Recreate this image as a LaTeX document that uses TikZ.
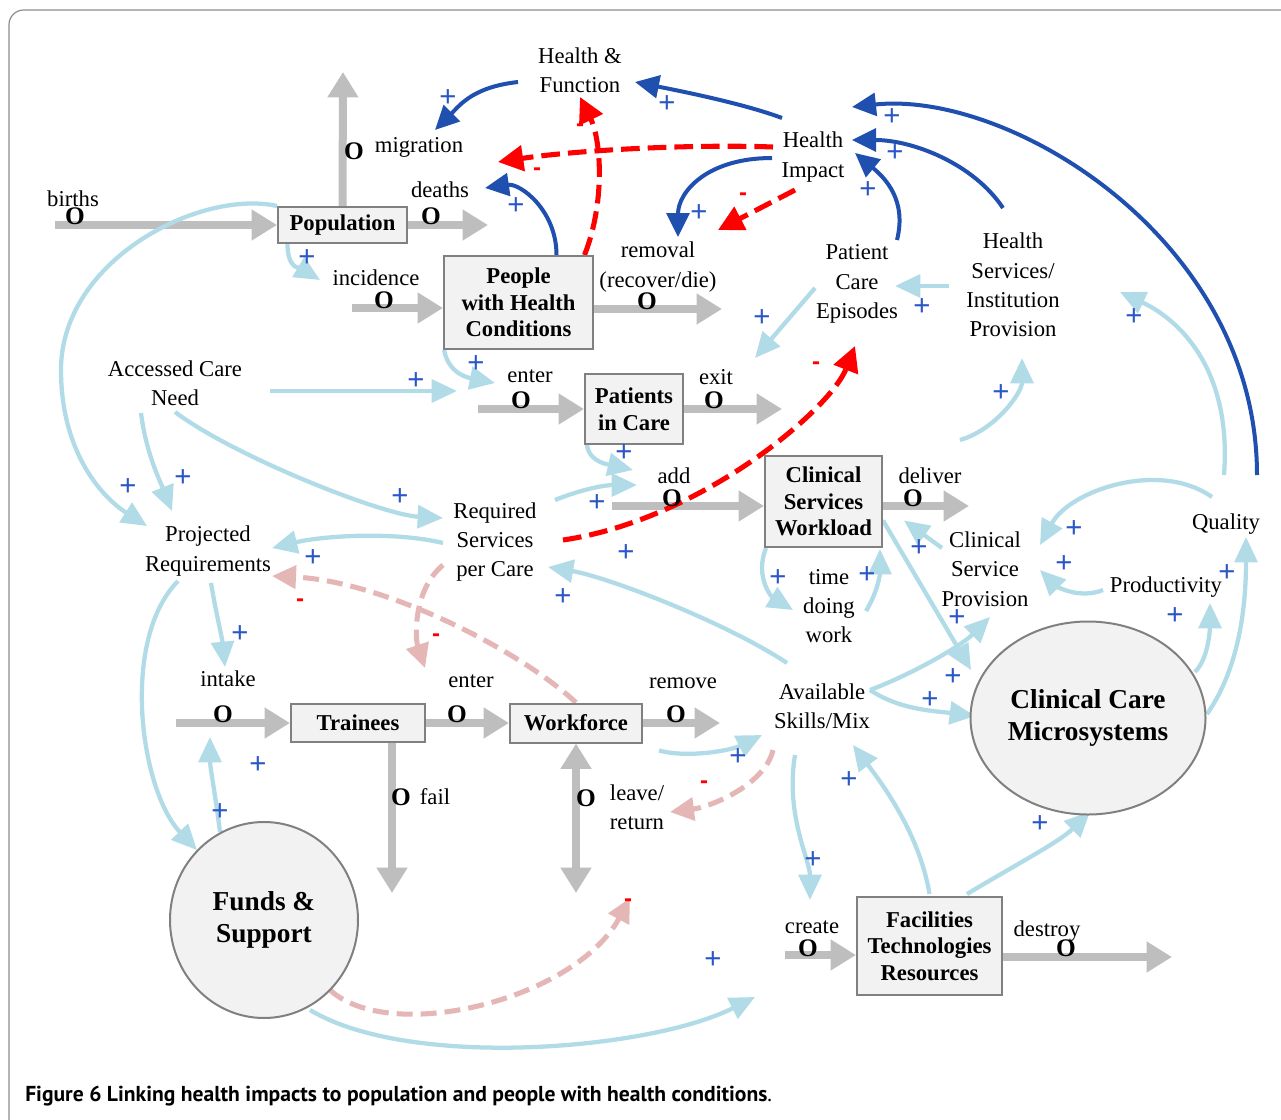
\documentclass[tikz,border=0pt]{standalone}
\usepackage{fontspec}
\setmainfont{Liberation Serif}
\newfontfamily\signfont{Liberation Sans}
\newfontfamily\capfont{PT Sans}
\usetikzlibrary{arrows.meta,shapes.geometric}

\definecolor{flowgray}{HTML}{BEBEBE}
\definecolor{boxfill}{HTML}{F2F2F2}
\definecolor{boxline}{HTML}{808080}
\definecolor{lblue}{HTML}{B0DBE7}
\definecolor{dblue}{HTML}{1F4FAF}
\definecolor{plusblue}{HTML}{2A56C6}
\definecolor{pinkd}{HTML}{E4B6B6}
\definecolor{framegray}{HTML}{8C8C8C}

\newcommand\pix{0.75pt}
\newcommand\auxfont{\fontsize{17}{22}\selectfont}
\newcommand\stockfont{\fontsize{17}{20}\selectfont\bfseries}
\newcommand\poolfont{\fontsize{20.5}{24}\selectfont\bfseries}

\pgfdeclarelayer{bg}
\pgfsetlayers{bg,main}

\begin{document}
\begin{tikzpicture}[x=0.75pt,y=-0.75pt,
  stock/.style={draw=boxline, fill=boxfill, line width=1.5pt, font=\stockfont, align=center, inner sep=0pt},
  pool/.style={ellipse, draw=boxline, fill=boxfill, line width=1.5pt, font=\poolfont, align=center, inner sep=0pt},
  aux/.style={font=\auxfont, align=center, inner sep=0pt},
  valve/.style={font=\fontsize{19}{19}\selectfont\bfseries, inner sep=0pt},
  plus/.style={text=plusblue, font=\signfont\fontsize{22}{22}\selectfont, inner sep=0pt},
  minus/.style={text=red, font=\signfont\bfseries\fontsize{18}{18}\selectfont, inner sep=0pt},
  flow/.style={draw=flowgray, line width=6pt, -{Triangle[length=19pt,width=22pt]}},
  flowboth/.style={draw=flowgray, line width=6pt, {Triangle[length=19pt,width=22pt]}-{Triangle[length=19pt,width=22pt]}},
  lb/.style={draw=lblue, line width=3.2pt, -{Triangle[length=19pt,width=17pt]}},
  db/.style={draw=dblue, line width=3pt, -{Triangle[length=18pt,width=17pt]}},
  rd/.style={draw=red, line width=3.8pt, dash pattern=on 14pt off 6pt, -{Triangle[length=19pt,width=19pt]}},
  pk/.style={draw=pinkd, line width=3.8pt, dash pattern=on 12pt off 6pt, -{Triangle[length=18pt,width=17pt]}}
]
\useasboundingbox (0,0) rectangle (1281,1120);

% ---------- stocks ----------
\node[stock, minimum width=129*\pix, minimum height=36*\pix] (pop) at (342.5,225) {Population};
\node[stock, minimum width=149*\pix, minimum height=93*\pix] (phc) at (518.5,302.5) {People\\with Health\\Conditions};
\node[stock, minimum width=98*\pix, minimum height=70*\pix] (pic) at (634,409) {Patients\\in Care};
\node[stock, minimum width=117*\pix, minimum height=91*\pix] (wl) at (823.5,501.5) {Clinical\\Services\\Workload};
\node[stock, minimum width=134*\pix, minimum height=38*\pix] (trn) at (358,723) {Trainees};
\node[stock, minimum width=132*\pix, minimum height=39*\pix] (wf) at (576,723) {Workforce};
\node[stock, minimum width=145*\pix, minimum height=98*\pix] (ftr) at (929.5,946) {Facilities\\Technologies\\Resources};

% ---------- pools ----------
\node[pool, minimum width=188*\pix, minimum height=196*\pix] (fund) at (264,920) {Funds \&\\Support};
\node[pool, minimum width=235*\pix, minimum height=193*\pix] (ccm) at (1088,718) {Clinical Care\\Microsystems};

% ---------- auxiliary variables ----------
\node[aux] (hf) at (580,70) {Health \&\\Function};
\node[aux] (hi) at (813,157) {Health\\Impact};
\node[aux] (pce) at (857,284) {Patient\\Care\\Episodes};
\node[aux] (hsip) at (1013,285) {Health\\Services/\\Institution\\Provision};
\node[aux] (acn) at (175,383) {Accessed Care\\Need};
\node[aux] (rsc) at (495,542) {Required\\Services\\per Care};
\node[aux] (pr) at (208,551) {Projected\\Requirements};
\node[aux] (tdw) at (829,606) {time\\doing\\work};
\node[aux] (csp) at (985,569) {Clinical\\Service\\Provision};
\node[aux] (qual) at (1226,524) {Quality};
\node[aux] (prod) at (1166,587) {Productivity};
\node[aux] (asm) at (822,706) {Available\\Skills/Mix};

% ---------- flow labels ----------
\node[aux] (lbirths) at (73,199) {births};
\node[aux] (ldeaths) at (440,190) {deaths};
\node[aux] (lmig) at (419,147) {migration};
\node[aux] (linc) at (376,278) {incidence};
\node[aux] (lrem) at (658,267) {removal\\(recover/die)};
\node[aux] (lent1) at (530,376) {enter};
\node[aux] (lexit) at (716,377) {exit};
\node[aux] (ladd) at (674,476) {add};
\node[aux] (ldel) at (930,476) {deliver};
\node[aux] (lint) at (228,679) {intake};
\node[aux] (lent2) at (471,681) {enter};
\node[aux] (lremv) at (683,683) {remove};
\node[aux] (lfail) at (435,797) {fail};
\node[aux] (lleave) at (637,807) {leave/\\return};
\node[aux] (lcreate) at (812,927) {create};
\node[aux] (ldest) at (1047,931) {destroy};

% ---------- flow ends ----------
\coordinate (birthsrc) at (55,225);
\coordinate (deathsink) at (488,225);
\coordinate (migsink) at (343,72);
\coordinate (incsrc) at (352,308);
\coordinate (remsink) at (722,309);
\coordinate (ent1src) at (478,409);
\coordinate (exitsink) at (782,409);
\coordinate (addsrc) at (612,506);
\coordinate (delsink) at (969,506);
\coordinate (intsrc) at (176,723);
\coordinate (remvsink) at (720,723);
\coordinate (failsink) at (392,893);
\coordinate (leavesrc) at (576,893);
\coordinate (createsrc) at (785,955);
\coordinate (destsink) at (1172,957);

\begin{pgfonlayer}{bg}
\fill[white] (0,0) rectangle (1281,1120);
\draw[framegray, line width=0.9pt, rounded corners=11pt] (9,10) rectangle (1300,1140);

% ---------- material flows ----------
\draw[flow] (birthsrc) -- (pop.west);
\draw[flow] (pop.east) -- (deathsink);
\draw[flow] (pop.north) -- (migsink);
\draw[flow] (incsrc) -- (incsrc -| phc.west);
\draw[flow] (phc.east |- remsink) -- (remsink);
\draw[flow] (ent1src) -- (pic.west);
\draw[flow] (pic.east) -- (exitsink);
\draw[flow] (addsrc) -- (addsrc -| wl.west);
\draw[flow] (wl.east |- delsink) -- (delsink);
\draw[flow] (intsrc) -- (trn.west);
\draw[flow] (trn.east) -- (wf.west);
\draw[flow] (wf.east) -- (remvsink);
\draw[flow] (failsink |- trn.south) -- (failsink);
\draw[flowboth] (wf.south) -- (leavesrc);
\draw[flow] (createsrc) -- (createsrc -| ftr.west);
\draw[flow] (ftr.east |- destsink) -- (destsink);

% ---------- light blue positive links ----------
\draw[lb] ([shift={(-55,0)}]pop.south) .. controls +(0,25) and +(-20,-12) .. ([shift={(-56,2)}]linc.center);
\draw[lb] (pop.north west) .. controls +(-77,-17) and +(0,-110) .. ([shift={(-147,-181)}]pr.center)
          .. controls +(0,80) and +(-47,-30) .. ([shift={(-61,-25)}]pr.center);
\draw[lb] ([shift={(-34,30)}]acn.center) .. controls +(5,40) and +(-12,-30) .. ([shift={(-36,-40)}]pr.center);
\draw[lb] ([shift={(0,29)}]acn.center) .. controls +(60,45) and +(-60,-3) .. ([shift={(-52,-24)}]rsc.center);
\draw[lb] ([shift={(95,8)}]acn.center) -- ([shift={(-73,15)}]lent1.center);
\draw[lb] ([shift={(1,0)}]phc.south west) .. controls +(5,25) and +(-25,-5) .. ([shift={(-35,7)}]lent1.center);
\draw[lb] ([shift={(3,0)}]pic.south west) .. controls +(2,18) and +(-22,-5) .. ([shift={(-41,-6)}]ladd.center);
\draw[lb] ([shift={(60,-42)}]rsc.center) .. controls +(30,-12) and +(-30,0) .. ([shift={(-37,9)}]ladd.center);
\draw[lb] ([shift={(-52,1)}]rsc.center) .. controls +(-50,-12) and +(50,-12) .. ([shift={(64,-3)}]pr.center);
\draw[lb] ([shift={(-42,4)}]pce.center) -- ([shift={(39,-19)}]lexit.center);
\draw[lb] ([shift={(-64,1)}]hsip.center) -- ([shift={(38,2)}]pce.center);
\draw[lb] ([shift={(30,-36)}]ldel.center) .. controls +(35,-10) and +(0,35) .. ([shift={(9,73)}]hsip.center);
\draw[lb] ([shift={(-2,-49)}]qual.center) .. controls +(8,-105) and +(60,28) .. ([shift={(107,7)}]hsip.center);
\draw[lb] ([shift={(3,32)}]pr.center) .. controls +(5,30) and +(-3,-30) .. ([shift={(-3,-12)}]lint.center);
\draw[lb] ([shift={(-30,30)}]pr.center) .. controls +(-58,59) and +(-57,-60) .. ([shift={(-67,-70)}]fund.center);
\draw[lb] ([shift={(-44,-88)}]fund.center) .. controls +(-5,-40) and +(0,30) .. ([shift={(-18,58)}]lint.center);
\draw[lb] ([shift={(46,90)}]fund.center) .. controls +(100,60) and +(-105,53) .. ([shift={(-57,70)}]lcreate.center);
\draw[lb] ([shift={(2,0)}]wl.south west) .. controls +(-12,30) and +(-20,-12) .. ([shift={(-36,4)}]tdw.center);
\draw[lb] ([shift={(37,5)}]tdw.center) .. controls +(12,-20) and +(0,25) .. ([shift={(-3,1)}]wl.south east);
\draw[lb] ([shift={(-43,-21)}]csp.center) -- ([shift={(21,19)}]wl.east);
\draw[lb] ([shift={(0,19)}]wl.east) -- ([shift={(-117,-48)}]ccm.center);
\draw[lb] ([shift={(48,-16)}]asm.center) .. controls +(40,-15) and +(-30,30) .. ([shift={(5,48)}]csp.center);
\draw[lb] ([shift={(48,-16)}]asm.center) .. controls +(30,20) and +(-40,-5) .. ([shift={(-113,-2)}]ccm.center);
\draw[lb] ([shift={(-35,-43)}]asm.center) .. controls +(-60,-40) and +(60,10) .. ([shift={(53,25)}]rsc.center);
\draw[lb] ([shift={(16,7)}]wf.south east) .. controls +(30,8) and +(-30,15) .. ([shift={(-60,29)}]asm.center);
\draw[lb] ([shift={(-27,49)}]asm.center) .. controls +(-10,60) and +(0,-40) .. ([shift={(-2,-27)}]lcreate.center);
\draw[lb] ([shift={(0,-2)}]ftr.north) .. controls +(-10,-60) and +(30,40) .. ([shift={(31,39)}]asm.center);
\draw[lb] ([shift={(37.5,-2)}]ftr.north) .. controls +(50,-30) and +(-30,30) .. ([shift={(2,-4)}]ccm.south);
\draw[lb] ([shift={(107,-46)}]ccm.center) .. controls +(15,-15) and +(0,20) .. ([shift={(44,16)}]prod.center);
\draw[lb] ([shift={(119,-4)}]ccm.center) .. controls +(35,-50) and +(0,60) .. ([shift={(20,13)}]qual.center);
\draw[lb] ([shift={(-63,3)}]prod.center) .. controls +(-25,10) and +(15,15) .. ([shift={(55,1)}]csp.center);
\draw[lb] ([shift={(-14,-27)}]qual.center) .. controls +(-52,-37) and +(30,-55) .. ([shift={(55,-24)}]csp.center);

% ---------- dark blue health links ----------
\draw[db] ([shift={(-31,-39)}]hi.center) .. controls +(-40,-15) and +(40,8) .. ([shift={(55,12)}]hf.center);
\draw[db] ([shift={(-62,12)}]hf.center) .. controls +(-45,5) and +(25,-25) .. ([shift={(16,-17)}]lmig.center);
\draw[db] ([shift={(38,0)}]phc.north) .. controls +(0,-45) and +(35,-5) .. ([shift={(45,-2)}]ldeaths.center);
\draw[db] ([shift={(-41,1)}]hi.center) .. controls +(-65,0) and +(0,-45) .. ([shift={(20,-30)}]lrem.center);
\draw[db] ([shift={(40,-44)}]pce.center) .. controls +(10,-40) and +(30,25) .. ([shift={(42,-4)}]hi.center);
\draw[db] ([shift={(-10,-77)}]hsip.center) .. controls +(-30,-45) and +(60,0) .. ([shift={(39,-17)}]hi.center);
\draw[db] ([shift={(31,-49)}]qual.center) .. controls +(0,-235) and +(158,-17) .. ([shift={(39,-50)}]hi.center);

% ---------- red negative links ----------
\draw[rd] ([shift={(-40,-10)}]hi.center) .. controls +(-80,-3) and +(80,-12) .. ([shift={(79,15)}]lmig.center);
\draw[rd] ([shift={(66,0)}]phc.north) .. controls +(20,-50) and +(22,45) .. ([shift={(0,27)}]hf.center);
\draw[rd] ([shift={(-18,33)}]hi.center) -- ([shift={(60,-37)}]lrem.center);
\draw[rd] ([shift={(68,-2)}]rsc.center) .. controls +(137,-20) and +(-25,64) .. ([shift={(-2,62)}]pce.center);

% ---------- pink negative links ----------
\draw[pk] (wf.north) .. controls +(-60,-55) and +(110,5) .. ([shift={(64,25)}]pr.center);
\draw[pk] ([shift={(-52,23)}]rsc.center) .. controls +(-30,25) and +(-10,-30) .. ([shift={(-46,-13)}]lent2.center);
\draw[pk] ([shift={(-49,44)}]asm.center) .. controls +(-8,35) and +(40,-5) .. ([shift={(33,5)}]lleave.center);
\draw[pk] ([shift={(66,70)}]fund.center) .. controls +(60,55) and +(-55,102) .. ([shift={(54,5)}]leavesrc);
\end{pgfonlayer}

% ---------- valves ----------
\foreach \a/\b [count=\i] in {75/216, 431/216, 354/151, 384/300, 647/301, 521/400, 714/400, 672/498,
    913/498, 223/714, 457/714, 676/714, 401/797, 586/798, 808/948, 1066/948}
  \node[valve] (valve\i) at (\a,\b) {O};

% ---------- polarity signs ----------
\foreach \a/\b [count=\i] in {448/98, 667/104, 892/117, 895/153, 868/190, 699/213, 516/206, 307/258,
    476/364, 416/381, 762/318, 922/307, 1134/317, 1001/393, 624/453, 128/487, 183/478, 400/497,
    597/503, 313/558, 626/553, 563/597, 1074/529, 919/548, 778/578, 867/575, 1064/564, 1227/573,
    1175/616, 957/618, 240/634, 953/677, 930/700, 738/757, 849/780, 258/765, 220/812, 813/860,
    1040/824, 713/960}
  \node[plus] (plus\i) at (\a,\b) {+};
\foreach \a/\b [count=\i] in {580/128, 537/172, 743/197, 816/366, 300/603, 436/638, 704/785, 628/903}
  \node[minus] (minus\i) at (\a,\b) {-};

% ---------- caption ----------
\node[anchor=west, inner sep=0pt, font=\capfont\bfseries\fontsize{16.2}{18}\selectfont] (caption) at (25,1096)
  {Figure 6 Linking health impacts to population and people with health conditions\textmd{.}};
\end{tikzpicture}
\end{document}
